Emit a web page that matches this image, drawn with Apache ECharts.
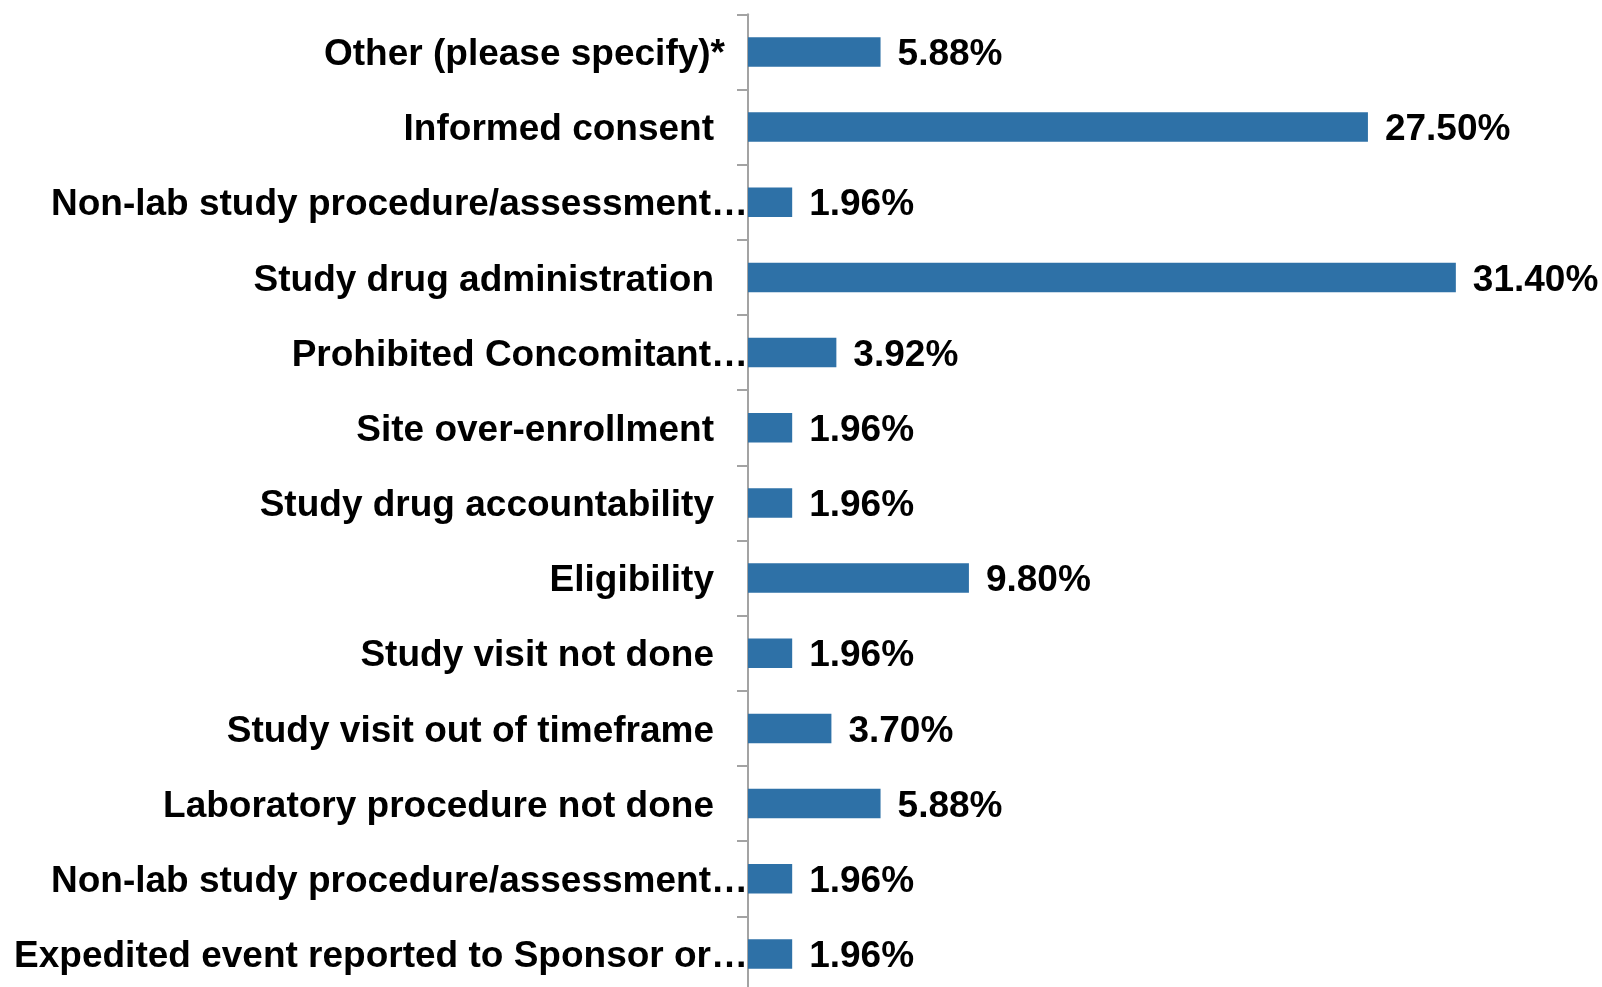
<!DOCTYPE html>
<html>
<head>
<meta charset="utf-8">
<script src="https://cdn.jsdelivr.net/npm/echarts@6/dist/echarts.min.js"></script>
<style>
  html, body { margin: 0; padding: 0; background: #fff; }
  #chart { width: 1602px; height: 987px; }
</style>
</head>
<body>
<div id="chart"></div>
<script>
const categories = [
  "Other (please specify)*",
  "Informed consent",
  "Non-lab study procedure/assessment…",
  "Study drug administration",
  "Prohibited Concomitant…",
  "Site over-enrollment",
  "Study drug accountability",
  "Eligibility",
  "Study visit not done",
  "Study visit out of timeframe",
  "Laboratory procedure not done",
  "Non-lab study procedure/assessment…",
  "Expedited event reported to Sponsor or…"
];
const values = [5.88, 27.50, 1.96, 31.40, 3.92, 1.96, 1.96, 9.80, 1.96, 3.70, 5.88, 1.96, 1.96];

const FONT = "'Liberation Sans', Arial, sans-serif";
const FS = 37;
const chart = echarts.init(document.getElementById('chart'), null, { renderer: 'canvas' });

chart.setOption({
  animation: false,
  backgroundColor: '#ffffff',
  grid: { left: 748, width: 789, top: 14.3, height: 977.2, containLabel: false, outerBoundsMode: 'none' },
  xAxis: {
    type: 'value', min: 0, max: 35, show: false,
    splitLine: { show: false }
  },
  yAxis: {
    type: 'category',
    inverse: true,
    data: categories,
    axisLine: { show: true, lineStyle: { color: '#a3a3a3', width: 2 } },
    axisTick: { show: true, length: 11, alignWithLabel: false, lineStyle: { color: '#a3a3a3', width: 2 } },
    axisLabel: {
      margin: 0,
      fontFamily: FONT,
      fontWeight: 'bold',
      fontSize: FS,
      color: '#000',
      formatter: function (v) {
        if (v.endsWith('…')) return '{e|' + v + '}';
        if (v.endsWith('*')) return '{s|' + v + '}';
        return '{n|' + v + '}';
      },
      rich: {
        n: { fontFamily: FONT, fontWeight: 'bold', fontSize: FS, color: '#000', padding: [6, 34, 0, 0] },
        s: { fontFamily: FONT, fontWeight: 'bold', fontSize: FS, color: '#000', padding: [6, 23, 0, 0] },
        e: { fontFamily: FONT, fontWeight: 'bold', fontSize: FS, color: '#000', padding: [6, 0, 0, 0] }
      }
    }
  },
  series: [{
    type: 'bar',
    data: values,
    barWidth: 29.5,
    itemStyle: { color: '#2E71A7' },
    label: {
      show: true,
      position: 'right',
      distance: 17,
      offset: [0, 3],
      fontFamily: FONT,
      fontWeight: 'bold',
      fontSize: FS,
      color: '#000',
      formatter: function (p) { return p.value.toFixed(2) + '%'; }
    }
  }]
});
</script>
</body>
</html>
